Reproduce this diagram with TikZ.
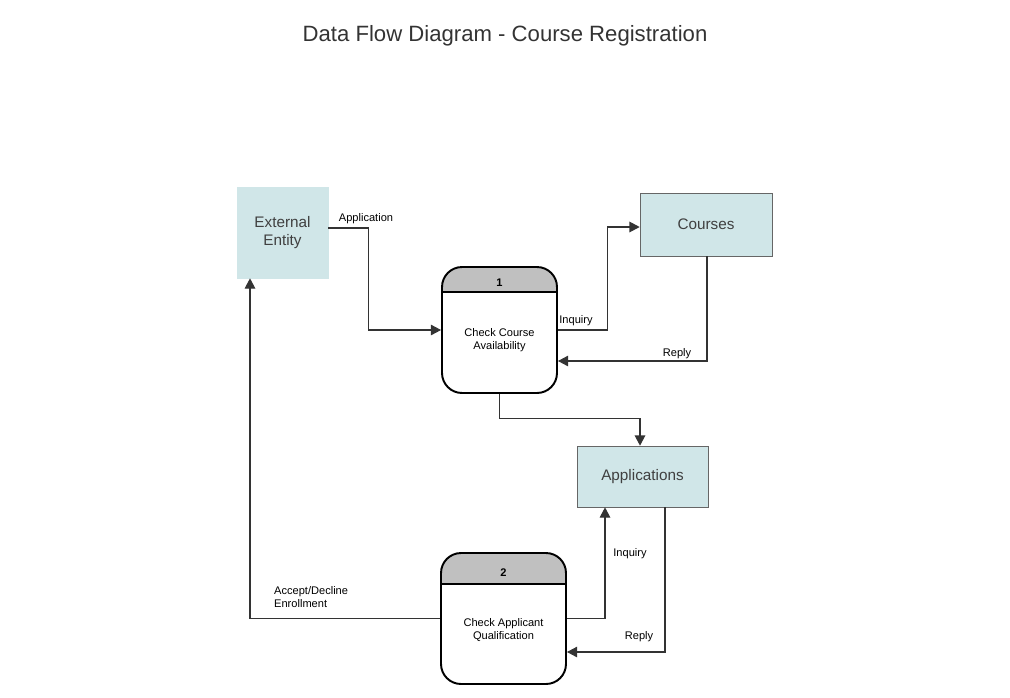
\documentclass[tikz,border=0pt]{standalone}
\usepackage{fontspec}
\setmainfont{Liberation Sans}
\usetikzlibrary{calc, arrows.meta}
\definecolor{storefill}{RGB}{208,230,232}
\definecolor{hdrgray}{RGB}{192,192,192}
\definecolor{txtgray}{RGB}{64,64,64}
\tikzstyle{entity} = [rectangle, fill=storefill, draw=storefill, text=txtgray, minimum width=1.82cm, minimum height=1.82cm, align=center, font=\fontsize{8.7}{10}\selectfont]
\tikzstyle{store} = [rectangle, fill=storefill, draw=black!60, text=txtgray, minimum height=1.24cm, font=\fontsize{8.7}{10}\selectfont]
\tikzstyle{small} = [align=center, font=\fontsize{6.3}{7.4}\selectfont]
\tikzstyle{num} = [font=\fontsize{6.3}{7.4}\selectfont\bfseries]
\tikzstyle{flow} = [draw=black!80, line width=0.6pt, -{Triangle[length=5.8pt, width=6pt]}]
\tikzset{procbox/.style={rectangle, rounded corners=0.4cm, draw=black, line width=1.1pt, fill=white,
    path picture={\fill[hdrgray, sharp corners] (path picture bounding box.north west) rectangle ([yshift=-#1]path picture bounding box.north east);
        \draw[line width=1.1pt, sharp corners] ([yshift=-#1]path picture bounding box.north west) -- ([yshift=-#1]path picture bounding box.north east);}}}

\begin{document}
\begin{tikzpicture}[x=0.02cm, y=-0.02cm]

        \useasboundingbox (0,0) rectangle (1010,697);

        \node (title) [text=black!80, font=\fontsize{12.6}{14}\selectfont] at (505,36) {Data Flow Diagram - Course Registration};

        \node (ext) [entity] at (282.5,232.5) {External\\Entity};
        \node (courses) [store, minimum width=2.64cm, minimum height=1.26cm] at (706,224.5) {Courses};
        \node (apps) [store, minimum width=2.62cm, minimum height=1.22cm] at (642.5,476.5) {Applications};

        \node (p1) [procbox=0.5cm, minimum width=2.3cm, minimum height=2.52cm] at (499.5,330) {};
        \node (p1num) [num] at (499.5,283) {1};
        \node (p1txt) [small] at (499.5,340) {Check Course\\Availability};

        \node (p2) [procbox=0.62cm, minimum width=2.5cm, minimum height=2.62cm] at (503.5,618.5) {};
        \node (p2num) [num] at (503.5,573) {2};
        \node (p2txt) [small] at (503.5,630) {Check Applicant\\Qualification};

        \draw[flow] ($(ext.east)+(0,-4.5)$) -- ++(40,0) |- (p1.west);
        \draw[flow] (p1.east) -- ++(50,0) |- ($(courses.west)+(0,2.5)$);
        \draw[flow] ($(courses.south)+(1,0)$) |- ($(p1.east)+(0,31)$);
        \draw[flow] (p1.south) -- ++(0,25) -| ($(apps.north)+(-2.5,0)$);
        \draw[flow] (p2.east) -| ($(apps.south)+(-37.5,0)$);
        \draw[flow] ($(apps.south)+(22.5,0)$) |- ($(p2.east)+(0,33.5)$);
        \draw[flow] (p2.west) -| ($(ext.south)+(-32.5,0)$);

        \node (lapp) [small] at (366,219) {Application};
        \node (linq1) [small] at (576,321) {Inquiry};
        \node (lrep1) [small] at (677,354) {Reply};
        \node (linq2) [small] at (630,554) {Inquiry};
        \node (lrep2) [small] at (639,637) {Reply};
        \node (lacc) [small, align=left, anchor=west] at (268,597) {Accept/Decline\\Enrollment};

    \end{tikzpicture}
\end{document}
